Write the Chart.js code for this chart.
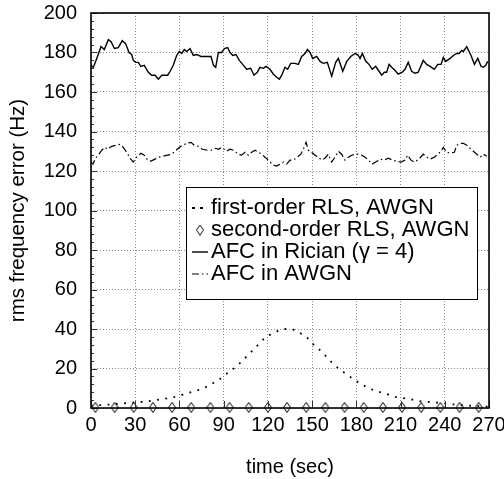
<!DOCTYPE html>
<html>
<head>
<meta charset="utf-8">
<title>rms frequency error vs time</title>
<script src="https://cdn.jsdelivr.net/npm/chart.js@4.4.1/dist/chart.umd.min.js"></script>
<style>
  html, body { margin: 0; padding: 0; background: #fff; }
  #wrap { width: 504px; height: 479px; }
</style>
</head>
<body>
<div id="wrap"><canvas id="rms-chart" width="504" height="479"></canvas></div>
<script>
// axis ticks
const timeTicks = [0, 30, 60, 90, 120, 150, 180, 210, 240, 270];
const rmsTicks = [0, 20, 40, 60, 80, 100, 120, 140, 160, 180, 200];

// AFC in Rician fading (gamma = 4)
const ricianTime = [0, 1.6, 3.9, 6.8, 9, 11.8, 13.6, 15.9, 18.5, 21.2, 23.5, 25.8, 27.6, 28.7, 30.3, 32, 33.9, 36.1, 38.9, 41.2,
  43.5, 45.7, 48, 50.2, 52, 53.7, 55.8, 58.1, 59.9, 61.5, 63.3, 64.9, 67.2, 69.4, 71.7, 74.6, 79.6, 81.4, 83.1, 84.6,
  86.4, 88.7, 90.5, 92.7, 94.3, 96.2, 98.4, 100.6, 102.9, 105.6, 108.3, 110.6, 112.8, 114.6, 116.9, 118.7, 121.4, 123.7, 126, 127.8,
  129.4, 131.6, 133.4, 135.5, 138.4, 140.7, 142.9, 145.2, 146.8, 148.6, 150.4, 153.1, 155.4, 157.6, 160.3, 163.3, 166, 167.8, 170.8, 173.5,
  176.2, 179.1, 180.9, 182.5, 184.1, 186.4, 188.6, 190.8, 193.1, 195.4, 197.2, 199, 200.6, 202.2, 204, 206.2, 208.4, 211.2, 213, 215.2,
  217.5, 219.8, 222, 225.4, 227.7, 230, 232.9, 235.2, 237.5, 239, 240.6, 243.6, 245.8, 248.1, 249.7, 251.5, 252.6, 254.9, 257.8, 260.1,
  262.4, 264.6, 266.2, 267.8, 269.1];
const ricianRms = [173.5, 172.5, 177, 183, 181.5, 186.5, 185.5, 182, 182.5, 186, 184.5, 180, 179, 176, 175, 175, 173, 173.5, 170, 168.5,
  168.5, 166.5, 168.5, 168.5, 168.5, 170.5, 173.5, 178.5, 180.5, 179.5, 181.5, 180.5, 182, 178.5, 179, 178, 178, 178, 173.5, 172.5,
  180, 180, 182, 182.5, 180, 178.5, 179, 176, 174, 171.5, 172, 168.5, 170, 172.5, 172, 173, 171.5, 169, 167.5, 166.5,
  168.5, 172.5, 171.5, 174.5, 174.5, 174, 178, 179.5, 181.5, 180, 177, 178, 175.5, 174.5, 175, 168, 175, 177, 170.5, 175.5,
  178, 179.5, 179, 177, 179.5, 175.5, 174, 171.5, 173, 170.5, 168.5, 170, 170, 174, 172.5, 171, 169, 170, 171.5, 175,
  170.5, 169.5, 170, 176, 174, 173, 171.5, 174, 174, 177.5, 175.5, 177, 178.5, 179.5, 179.5, 181, 180.5, 183, 178.5, 174,
  177, 173, 172.5, 173.5, 175.5];

// AFC in AWGN
const awgnTime = [0, 1.4, 2.7, 5.4, 7.3, 9.5, 11.3, 14, 16.8, 19.7, 21.9, 24.2, 26.5, 28.7, 31, 33.9, 36.1, 38.4, 40.7, 43.4,
  46.1, 49.1, 52, 54.7, 57, 59.2, 61.9, 64.9, 67.8, 70.1, 72.8, 75.5, 79.1, 81.4, 84.6, 86.4, 88.7, 92, 94.3, 96.5,
  99.9, 102.2, 104.5, 106.7, 109, 111.3, 113.5, 115.8, 118, 119.6, 121.4, 123.7, 126, 128.2, 130.5, 132.8, 135, 137.3, 140, 142.3,
  144, 145.9, 147.4, 149.7, 152, 154.2, 156.4, 158.7, 161, 163.3, 165.5, 167.8, 170.1, 172.3, 174.6, 176.9, 179.1, 181.4, 183.7, 186,
  188.2, 190.8, 193.1, 196.1, 199, 201.7, 204.5, 207.4, 210.3, 213, 214.8, 217.1, 219.3, 222.5, 225.4, 227.7, 230, 232.9, 235.2, 237.5,
  239, 241.3, 243.6, 246.5, 248.1, 250.3, 252.6, 254.9, 257.1, 259.4, 261.7, 264, 266.2, 268.5];
const awgnRms = [124.5, 123.5, 126, 128.5, 130.5, 132, 131, 132.5, 133, 133.5, 132, 129.5, 126.5, 124.5, 127, 129, 128, 125.5, 125, 126,
  127, 127.5, 128, 128.5, 130, 131.5, 133, 134, 134.5, 133, 132.5, 131, 130.5, 130.5, 131.5, 131, 132, 130, 131, 130.5,
  128.5, 128, 129.5, 128, 129.5, 130.5, 129.5, 128.5, 127, 126, 124.5, 123, 122.5, 123.5, 124.5, 123.5, 125.5, 125.5, 127, 128.5,
  131, 134.5, 130.5, 129.5, 128, 127, 125.5, 126.5, 128.5, 124.5, 127, 130, 128.5, 125.5, 127, 128, 128.5, 128.5, 128, 127,
  125.5, 123.5, 124.5, 126, 125.5, 126.5, 125.5, 125, 124.5, 125.5, 128, 125.5, 124.5, 126, 128.5, 127, 126, 127, 128.5, 130,
  132, 129.5, 129, 129.5, 133, 134, 134, 133, 131.5, 130, 128.5, 127, 128.5, 127.5];

// first-order RLS, AWGN
const firstOrderTime = [0, 10, 22.6, 28.7, 34.8, 40.7, 46.8, 52.9, 58.8, 64.5, 70.1, 76.2, 81.9, 86.8, 91.4, 96.5, 101, 105.6, 109.7, 114,
  118.3, 124, 129.4, 135, 140.6, 146.3, 150.4, 155, 159.2, 163.7, 168.3, 173, 178, 183.2, 188.6, 194.2, 200.1, 205.8, 212.1, 218.2,
  224.3, 230.5, 236.8, 242.4, 248, 254, 260, 266, 270];
const firstOrderRms = [1.2, 1.6, 2.4, 2.8, 3.1, 3.6, 4.3, 5.0, 6.0, 7.3, 8.5, 10.0, 12.2, 14.3, 17.0, 19.8, 22.7, 26.1, 29.1, 32.5,
  35.7, 38.0, 39.7, 40.1, 38.4, 35.8, 32.5, 29.5, 26.4, 22.9, 19.8, 17.3, 14.6, 12.2, 10.0, 8.5, 7.2, 5.7, 5.0, 4.2,
  3.3, 3.0, 2.6, 2.1, 1.7, 1.3, 1.0, 0.8, 0.7];

// second-order RLS, AWGN
const secondOrderTime = [3, 16, 29, 42, 55, 68, 81, 94, 107, 120, 133, 146, 159, 172, 185, 198, 211, 224, 237, 250, 263];
const secondOrderRms = [0.3, 0.3, 0.3, 0.3, 0.3, 0.3, 0.3, 0.3, 0.3, 0.3, 0.3, 0.3, 0.3, 0.3, 0.3, 0.3, 0.3, 0.3, 0.3, 0.3, 0.3];

const FONT = "'Liberation Sans', Arial, Helvetica, sans-serif";

function toPoints(xs, ys) {
  return xs.map((x, i) => ({ x: x, y: ys[i] }));
}

// tall hollow diamond marker
function makeDiamond() {
  const c = document.createElement('canvas');
  c.width = 8;
  c.height = 11;
  const g = c.getContext('2d');
  g.beginPath();
  g.moveTo(4, 0.5);
  g.lineTo(7.5, 5.5);
  g.lineTo(4, 10.5);
  g.lineTo(0.5, 5.5);
  g.closePath();
  g.fillStyle = '#fff';
  g.fill();
  g.strokeStyle = '#000';
  g.lineWidth = 1;
  g.stroke();
  return c;
}
const diamond = makeDiamond();

// frame around the plot plus inward tick marks
const frameTicks = {
  id: 'frameTicks',
  afterDatasetsDraw(chart) {
    const { ctx, chartArea: a, scales: { x, y } } = chart;
    ctx.save();
    ctx.strokeStyle = '#333';
    ctx.lineWidth = 1;
    ctx.beginPath();
    timeTicks.forEach(t => {
      const px = Math.round(x.getPixelForValue(t)) + 0.5;
      ctx.moveTo(px, a.bottom);
      ctx.lineTo(px, a.bottom - 7);
    });
    for (let v = 0; v <= 200; v += 4) {
      const py = Math.round(y.getPixelForValue(v)) + 0.5;
      const len = v % 20 === 0 ? 6 : 3;
      ctx.moveTo(a.left, py);
      ctx.lineTo(a.left + len, py);
    }
    ctx.stroke();
    ctx.strokeStyle = '#000';
    ctx.lineWidth = 1.6;
    ctx.strokeRect(a.left, a.top, a.right - a.left, a.bottom - a.top);
    ctx.restore();
  }
};

// boxed legend inside the plot
const legendBox = {
  id: 'legendBox',
  afterDraw(chart) {
    const { ctx } = chart;
    const bx = 186, by = 187, bw = 291, bh = 112;
    ctx.save();
    ctx.fillStyle = '#fff';
    ctx.fillRect(bx, by, bw, bh);
    ctx.strokeStyle = '#000';
    ctx.lineWidth = 1;
    ctx.strokeRect(bx + 0.5, by + 0.5, bw, bh);

    ctx.font = '22px ' + FONT;
    ctx.textBaseline = 'middle';
    ctx.fillStyle = '#000';
    chart.data.datasets.forEach((ds, i) => {
      const cy = by + 21 + i * 22;
      if (ds.showLine) {
        ctx.beginPath();
        ctx.setLineDash(ds.legendDash || ds.borderDash || []);
        ctx.lineWidth = ds.borderWidth;
        ctx.strokeStyle = ds.borderColor;
        ctx.moveTo(192, cy);
        ctx.lineTo(208, cy);
        ctx.stroke();
        ctx.setLineDash([]);
      } else {
        ctx.drawImage(diamond, 200 - diamond.width / 2, cy - diamond.height / 2);
      }
      ctx.fillText(ds.label, 211, cy);
    });
    ctx.restore();
  }
};

const gridStyle = {
  color: '#888',
  lineWidth: 1,
  drawTicks: false
};

new Chart(document.getElementById('rms-chart'), {
  type: 'scatter',
  data: {
    datasets: [
      {
        label: 'first-order RLS, AWGN',
        data: toPoints(firstOrderTime, firstOrderRms),
        showLine: true,
        borderColor: '#000',
        borderWidth: 1.8,
        borderDash: [1.8, 6.5],
        legendDash: [3, 5],
        pointRadius: 0,
        cubicInterpolationMode: 'monotone'
      },
      {
        label: 'second-order RLS, AWGN',
        data: toPoints(secondOrderTime, secondOrderRms),
        showLine: false,
        pointStyle: diamond,
        pointRadius: 4,
        clip: false
      },
      {
        label: 'AFC in Rician (\u03b3 = 4)',
        data: toPoints(ricianTime, ricianRms),
        showLine: true,
        borderColor: '#000',
        borderWidth: 1.4,
        pointRadius: 0
      },
      {
        label: 'AFC in AWGN',
        data: toPoints(awgnTime, awgnRms),
        showLine: true,
        borderColor: '#000',
        borderWidth: 1.2,
        borderDash: [7, 3, 1.5, 3],
        pointRadius: 0
      }
    ]
  },
  options: {
    responsive: false,
    animation: false,
    layout: { padding: { top: 13, right: 15, left: 0, bottom: 0 } },
    plugins: {
      legend: { display: false },
      tooltip: { enabled: false }
    },
    scales: {
      x: {
        type: 'linear',
        min: 0,
        max: 270,
        afterBuildTicks: scale => { scale.ticks = timeTicks.map(v => ({ value: v })); },
        afterFit: scale => {
          scale.height = 71;
          scale.paddingLeft = 0;
          scale.paddingRight = 0;
        },
        grid: gridStyle,
        border: { display: false, dash: [1, 2] },
        ticks: { color: '#000', padding: 5, maxRotation: 0, font: { family: FONT, size: 20 } },
        title: {
          display: true,
          text: 'time (sec)',
          color: '#000',
          padding: { top: 0, bottom: 0 },
          font: { family: FONT, size: 20 }
        }
      },
      y: {
        type: 'linear',
        min: 0,
        max: 200,
        afterBuildTicks: scale => { scale.ticks = rmsTicks.map(v => ({ value: v })); },
        afterFit: scale => {
          scale.width = 91;
          scale.paddingTop = 0;
          scale.paddingBottom = 0;
        },
        grid: gridStyle,
        border: { display: false, dash: [1, 2] },
        ticks: { color: '#000', padding: 14, font: { family: FONT, size: 20 } },
        title: {
          display: true,
          text: 'rms frequency error (Hz)',
          color: '#000',
          padding: { top: 6, bottom: 0 },
          font: { family: FONT, size: 20.5 }
        }
      }
    }
  },
  plugins: [frameTicks, legendBox]
});
</script>
</body>
</html>
